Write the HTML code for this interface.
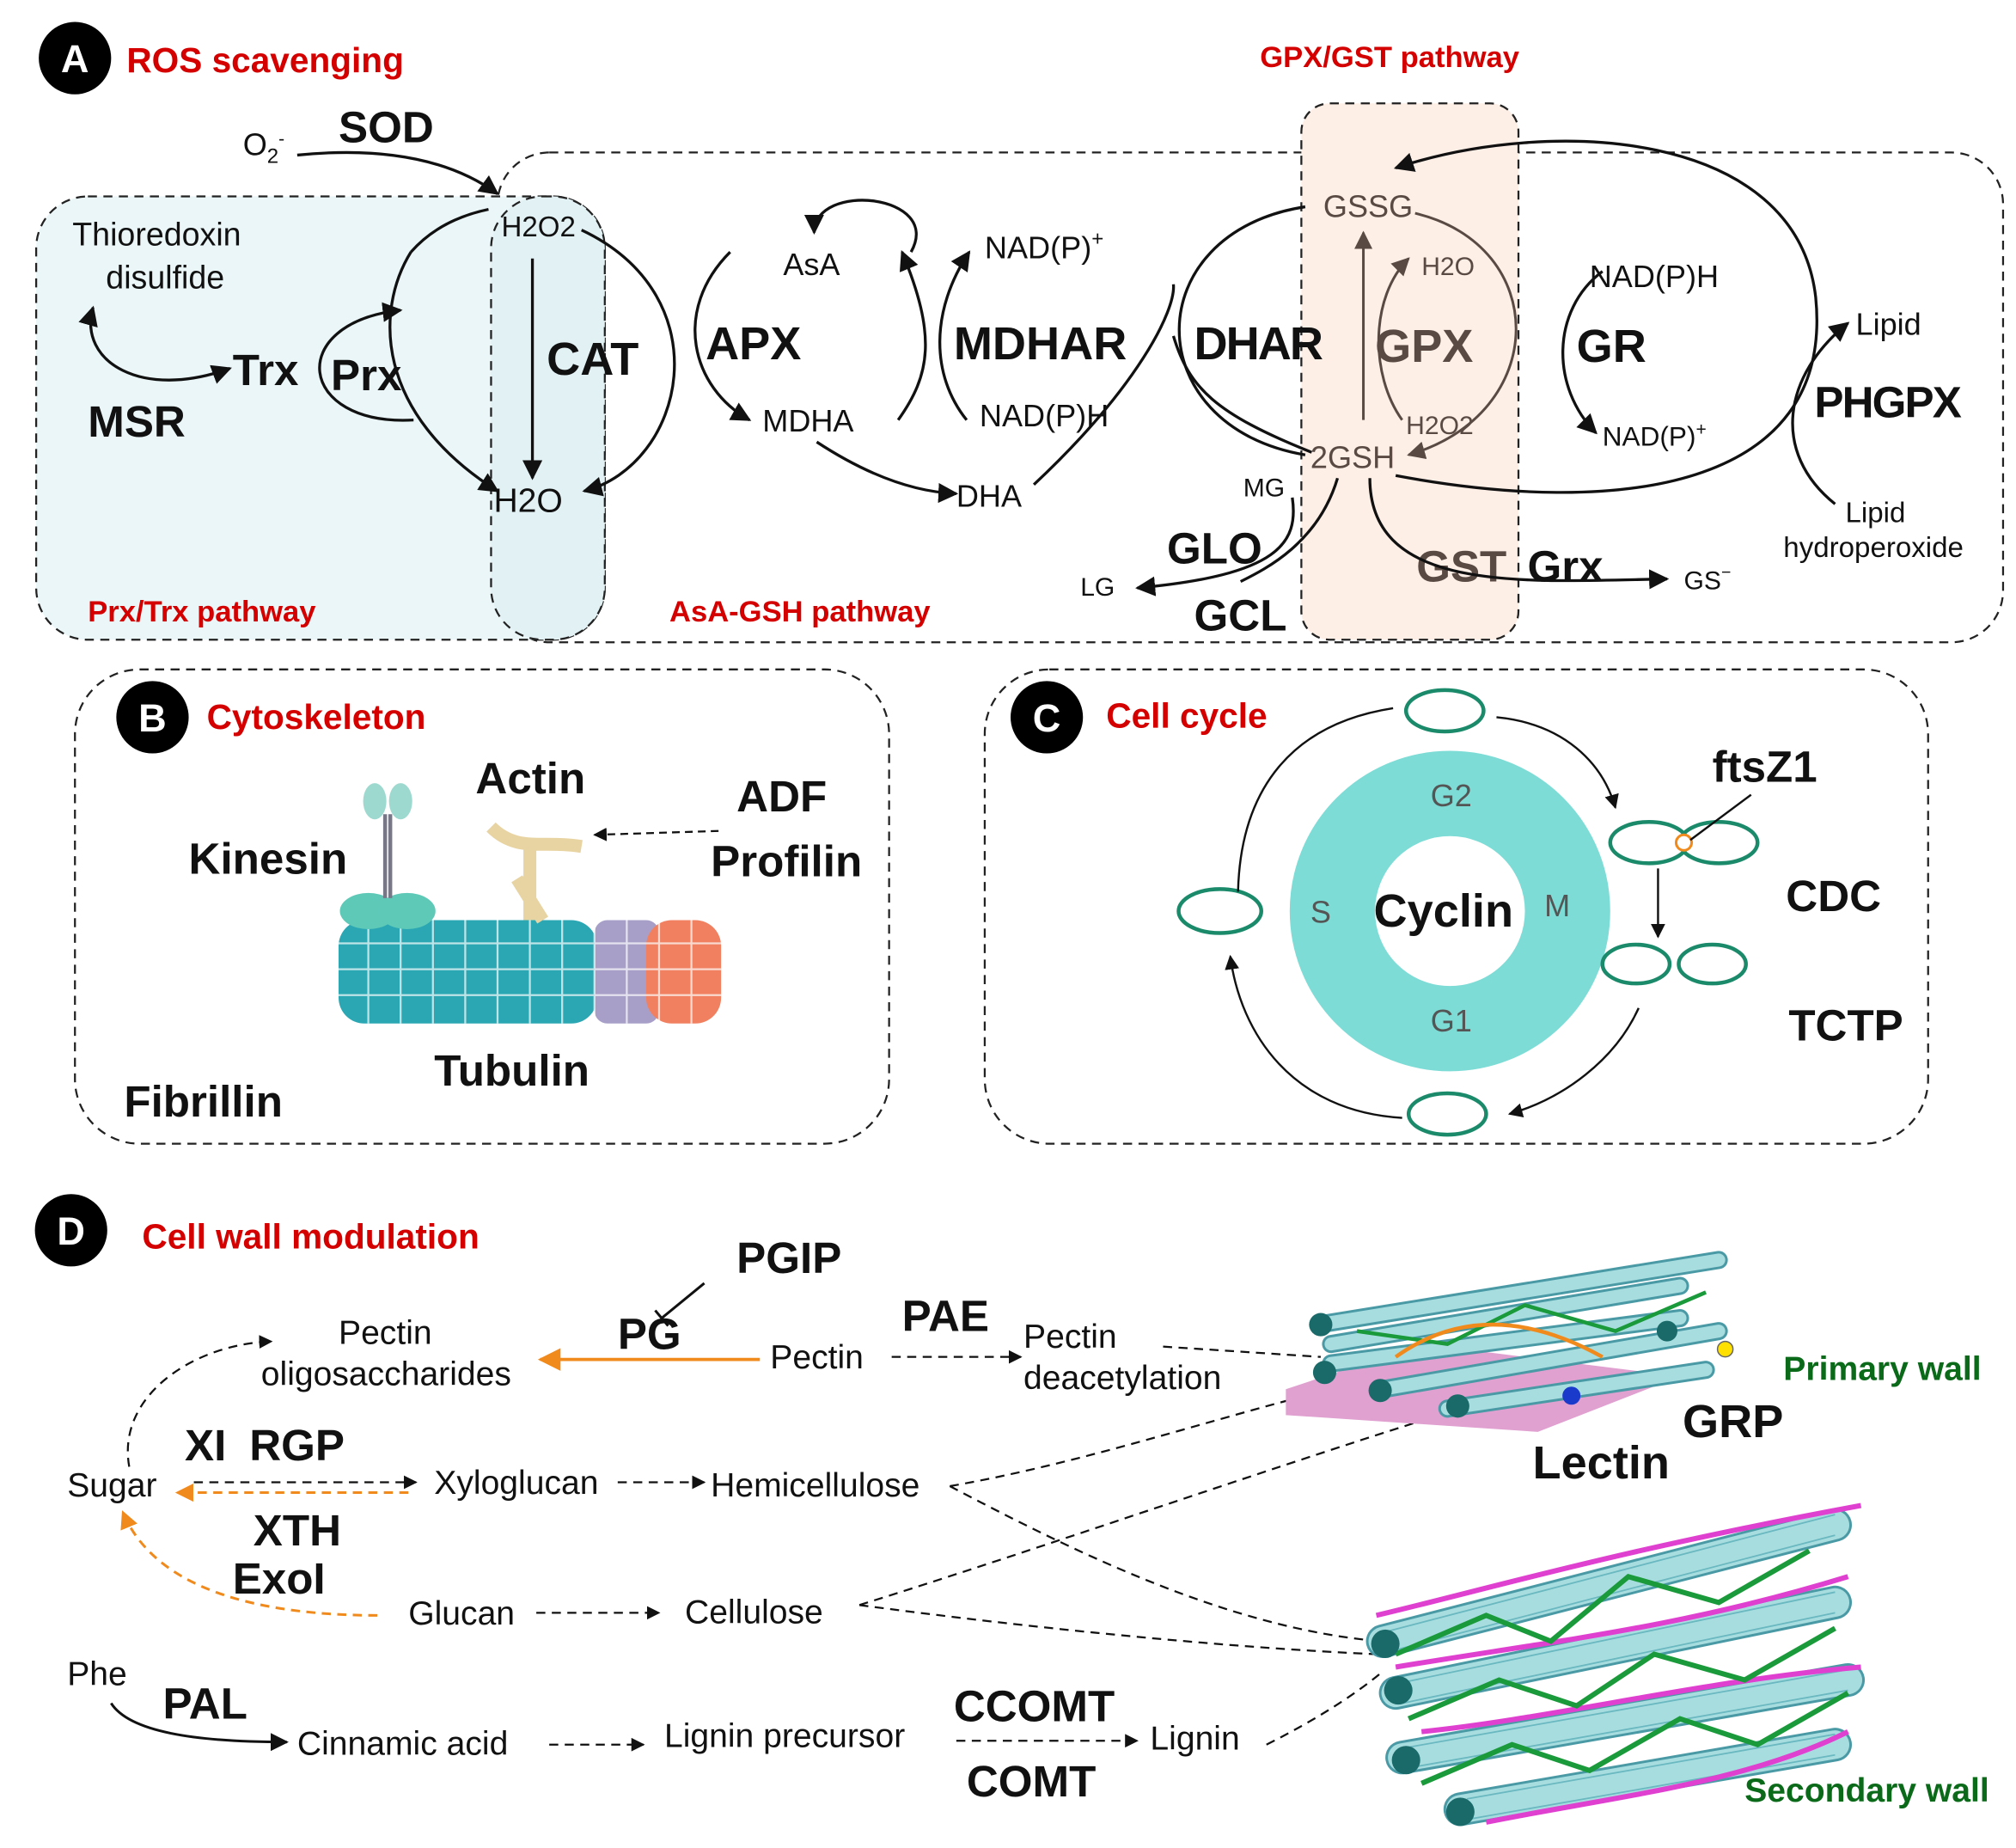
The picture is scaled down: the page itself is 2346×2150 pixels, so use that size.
<!DOCTYPE html>
<html><head><meta charset="utf-8"><style>html,body{margin:0;padding:0;background:#fff}svg{display:block}text{font-family:"Liberation Sans","DejaVu Sans",sans-serif}.b{font-weight:bold}</style></head><body>
<svg width="2346" height="2150" viewBox="0 0 1560 1430" preserveAspectRatio="none" xmlns="http://www.w3.org/2000/svg">
<defs>
<marker id="a" viewBox="0 0 10 10" refX="9" refY="5" markerWidth="7" markerHeight="7" orient="auto-start-reverse"><path d="M0,0 L10,5 L0,10 z" fill="#111"/></marker>
<marker id="ao" viewBox="0 0 10 10" refX="9" refY="5" markerWidth="7" markerHeight="7" orient="auto"><path d="M0,0 L10,5 L0,10 z" fill="#f08a1c"/></marker>
<marker id="ab" viewBox="0 0 10 10" refX="9" refY="5" markerWidth="7" markerHeight="7" orient="auto"><path d="M0,0 L10,5 L0,10 z" fill="#5a4a44"/></marker>
</defs>
<g fill="none" stroke="#222" stroke-width="1.5" stroke-dasharray="7,5">
<rect x="385" y="118" width="1165" height="379" rx="40"/>
<rect x="28" y="152" width="440" height="343" rx="40" fill="#eaf6f8"/>
<rect x="380" y="152" width="88" height="343" rx="40" fill="#e2f1f4"/>
<rect x="1007" y="80" width="168" height="415" rx="22" fill="#fdeee6"/>
<rect x="58" y="518" width="630" height="367" rx="50"/>
<rect x="762" y="518" width="730" height="367" rx="50"/>
</g>
<g font-weight="bold" fill="#fff" font-size="30" text-anchor="middle">
<circle cx="58" cy="45" r="28" fill="#000"/><text x="58" y="56">A</text>
<circle cx="118" cy="555" r="28" fill="#000"/><text x="118" y="566">B</text>
<circle cx="810" cy="555" r="28" fill="#000"/><text x="810" y="566">C</text>
<circle cx="55" cy="952" r="28" fill="#000"/><text x="55" y="963">D</text>
</g>
<g fill="#d40000" font-size="27" font-weight="bold">
<text x="98" y="56">ROS scavenging</text>
<text x="160" y="564">Cytoskeleton</text>
<text x="856" y="563">Cell cycle</text>
<text x="110" y="966">Cell wall modulation</text>
<text x="975" y="52" font-size="23">GPX/GST pathway</text>
<text x="68" y="481" font-size="23">Prx/Trx pathway</text>
<text x="518" y="481" font-size="23">AsA-GSH pathway</text>
</g>
<g fill="#111" font-size="24">
<text x="188" y="120">O<tspan font-size="16" dy="6">2</tspan><tspan font-size="14" dy="-14">-</tspan></text>
<text x="262" y="110" font-size="34" class="b">SOD</text>
<text x="56" y="190" font-size="25">Thioredoxin</text>
<text x="82" y="223" font-size="25">disulfide</text>
<text x="180" y="298" font-size="34" class="b">Trx</text>
<text x="256" y="302" font-size="34" class="b">Prx</text>
<text x="68" y="338" font-size="34" class="b">MSR</text>
<text x="388" y="183" font-size="22">H2O2</text>
<text x="423" y="290" font-size="36" class="b">CAT</text>
<text x="382" y="396" font-size="26">H2O</text>
<text x="546" y="278" font-size="36" class="b">APX</text>
<text x="606" y="213">AsA</text>
<text x="590" y="334">MDHA</text>
<text x="740" y="392">DHA</text>
<text x="762" y="200">NAD(P)<tspan font-size="16" dy="-10">+</tspan></text>
<text x="738" y="278" font-size="36" class="b" textLength="134">MDHAR</text>
<text x="758" y="330">NAD(P)H</text>
<text x="924" y="278" font-size="36" class="b" textLength="100">DHAR</text>
<text x="1024" y="168" fill="#5a4a44">GSSG</text>
<text x="1100" y="213" font-size="20" fill="#5a4a44">H2O</text>
<text x="1064" y="280" font-size="36" class="b" fill="#5a4a44">GPX</text>
<text x="1088" y="336" font-size="20" fill="#5a4a44">H2O2</text>
<text x="1014" y="362" fill="#5a4a44">2GSH</text>
<text x="1230" y="222">NAD(P)H</text>
<text x="1220" y="280" font-size="36" class="b">GR</text>
<text x="1240" y="345" font-size="21">NAD(P)<tspan font-size="14" dy="-8">+</tspan></text>
<text x="1436" y="259">Lipid</text>
<text x="1404" y="323" font-size="34" class="b" textLength="114">PHGPX</text>
<text x="1428" y="404" font-size="22">Lipid</text>
<text x="1380" y="431" font-size="22">hydroperoxide</text>
<text x="962" y="384" font-size="20">MG</text>
<text x="903" y="436" font-size="34" class="b">GLO</text>
<text x="836" y="461" font-size="20">LG</text>
<text x="924" y="488" font-size="34" class="b">GCL</text>
<text x="1096" y="450" font-size="34" class="b" fill="#5a4a44">GST</text>
<text x="1182" y="450" font-size="34" class="b">Grx</text>
<text x="1303" y="456" font-size="20">GS<tspan font-size="13" dy="-9">−</tspan></text>
</g>
<g fill="none" stroke="#111" stroke-width="2.2">
<path d="M230,120 Q330,110 385,150" marker-end="url(#a)"/>
<path d="M412,200 L412,370" marker-end="url(#a)"/>
<path d="M450,178 C560,230 530,360 452,380" marker-end="url(#a)"/>
<path d="M318,195 C290,240 290,320 385,380" marker-end="url(#a)"/>
<path d="M320,325 C230,330 220,250 310,240" marker-end="url(#a)"/>
<path d="M318,195 Q340,170 378,162"/>
<path d="M72,238 C60,280 110,310 178,285" marker-start="url(#a)" marker-end="url(#a)"/>
<path d="M565,195 C520,240 535,300 580,325" marker-end="url(#a)"/>
<path d="M705,195 C730,150 630,140 630,180" marker-end="url(#a)"/>
<path d="M632,342 Q690,380 740,382" marker-end="url(#a)"/>
<path d="M695,325 C720,290 725,260 698,195" marker-end="url(#a)"/>
<path d="M748,325 C720,290 720,240 750,195" marker-end="url(#a)"/>
<path d="M800,375 C880,300 910,240 908,220"/>
<path d="M1010,160 C880,180 880,330 1010,352"/>
<path d="M1015,350 C940,320 920,300 908,260"/>
<path d="M1000,385 C1005,420 990,445 880,455" marker-end="url(#a)"/>
<path d="M1035,370 C1020,420 980,440 960,450"/>
<path d="M1060,370 C1060,460 1180,450 1290,448" marker-end="url(#a)"/>
<path d="M1080,368 C1250,400 1420,380 1405,230 C1390,100 1200,90 1080,130" marker-end="url(#a)"/>
<path d="M1240,210 C1200,240 1200,300 1235,335" marker-end="url(#a)"/>
<path d="M1420,390 C1370,350 1380,290 1430,250" marker-end="url(#a)"/>
</g>
<g fill="none" stroke="#5a4a44" stroke-width="2">
<path d="M1055,325 L1055,180" marker-end="url(#ab)"/>
<path d="M1085,325 C1060,290 1060,230 1090,200" marker-end="url(#ab)"/>
<path d="M1095,165 C1200,190 1200,320 1090,352" marker-end="url(#ab)"/>
</g>
<g fill="#111" font-size="34" class="b">
<text x="368" y="614">Actin</text>
<text x="570" y="628">ADF</text>
<text x="550" y="678">Profilin</text>
<text x="146" y="676">Kinesin</text>
<text x="336" y="840">Tubulin</text>
<text x="96" y="864">Fibrillin</text>
</g>
<path d="M556,643 L460,646" stroke="#111" stroke-width="1.5" stroke-dasharray="6,4" fill="none" marker-end="url(#a)"/>
<g>
<rect x="262" y="712" width="200" height="80" rx="20" fill="#2aa7b3"/>
<rect x="460" y="712" width="50" height="80" rx="10" fill="#a79fc8"/>
<rect x="500" y="712" width="58" height="80" rx="20" fill="#f08060"/>
<g stroke="#fff" stroke-width="1.5" opacity="0.7"><path d="M262,730H558M262,750H558M262,770H558M285,712V792M310,712V792M335,712V792M360,712V792M385,712V792M410,712V792M435,712V792M460,712V792M485,712V792M510,712V792M535,712V792"/></g>
<ellipse cx="285" cy="705" rx="22" ry="14" fill="#5fc9b8"/><ellipse cx="315" cy="705" rx="22" ry="14" fill="#5fc9b8"/>
<path d="M298,630 L298,695 M302,630 L302,695" stroke="#778" stroke-width="3"/>
<ellipse cx="290" cy="620" rx="9" ry="14" fill="#9ed9d0"/><ellipse cx="310" cy="620" rx="9" ry="14" fill="#9ed9d0"/>
<path d="M380,640 C400,660 420,650 450,655 M410,650 L410,712 M400,680 L420,712" stroke="#e8d4a2" stroke-width="10" fill="none"/>
</g>
<circle cx="1122" cy="705" r="91" fill="none" stroke="#7ddcd6" stroke-width="66"/>
<g fill="#555" font-size="24" text-anchor="middle"><text x="1123" y="624">G2</text><text x="1123" y="798">G1</text><text x="1022" y="714">S</text><text x="1205" y="709">M</text></g>
<text x="1117" y="717" font-size="36" text-anchor="middle" fill="#111" class="b">Cyclin</text>
<g fill="#111" font-size="34" class="b"><text x="1325" y="605">ftsZ1</text><text x="1382" y="705">CDC</text><text x="1384" y="805">TCTP</text></g>
<g fill="none" stroke="#111" stroke-width="3">
<ellipse cx="1118" cy="550" rx="30" ry="16" stroke="#1a8a6a"/>
<ellipse cx="944" cy="705" rx="32" ry="17" stroke="#1a8a6a"/>
<ellipse cx="1120" cy="862" rx="30" ry="16" stroke="#1a8a6a"/>
<ellipse cx="1276" cy="652" rx="30" ry="16" stroke="#1a8a6a"/><ellipse cx="1330" cy="652" rx="30" ry="16" stroke="#1a8a6a"/>
<ellipse cx="1266" cy="746" rx="26" ry="15" stroke="#1a8a6a"/><ellipse cx="1325" cy="746" rx="26" ry="15" stroke="#1a8a6a"/>
</g>
<circle cx="1303" cy="652" r="6" fill="#fff" stroke="#f08a1c" stroke-width="2"/>
<g fill="none" stroke="#111" stroke-width="1.6">
<path d="M1158,555 C1210,560 1240,590 1250,625" marker-end="url(#a)"/>
<path d="M1283,672 L1283,725" marker-end="url(#a)"/>
<path d="M1268,780 C1250,820 1210,850 1168,862" marker-end="url(#a)"/>
<path d="M1085,865 C1000,860 960,800 952,740" marker-end="url(#a)"/>
<path d="M958,690 C960,610 1000,560 1078,548"/>
<path d="M1308,650 L1355,615"/>
</g>
<g fill="#111" font-size="26">
<text x="570" y="985" font-size="34" class="b">PGIP</text>
<text x="478" y="1044" font-size="34" class="b">PG</text>
<text x="698" y="1030" font-size="34" class="b">PAE</text>
<text x="262" y="1040">Pectin</text>
<text x="202" y="1072">oligosaccharides</text>
<text x="596" y="1059">Pectin</text>
<text x="792" y="1043">Pectin</text>
<text x="792" y="1075">deacetylation</text>
<text x="143" y="1130" font-size="34" class="b">XI</text>
<text x="193" y="1130" font-size="34" class="b">RGP</text>
<text x="52" y="1158">Sugar</text>
<text x="336" y="1156">Xyloglucan</text>
<text x="550" y="1158">Hemicellulose</text>
<text x="196" y="1196" font-size="34" class="b">XTH</text>
<text x="180" y="1233" font-size="34" class="b">ExoI</text>
<text x="316" y="1257">Glucan</text>
<text x="530" y="1256">Cellulose</text>
<text x="52" y="1304">Phe</text>
<text x="126" y="1330" font-size="34" class="b">PAL</text>
<text x="230" y="1358">Cinnamic acid</text>
<text x="514" y="1352">Lignin precursor</text>
<text x="738" y="1332" font-size="34" class="b">CCOMT</text>
<text x="890" y="1354">Lignin</text>
<text x="748" y="1390" font-size="34" class="b">COMT</text>
<text x="1186" y="1144" font-size="36" class="b">Lectin</text>
<text x="1302" y="1112" font-size="36" class="b">GRP</text>
<text x="1380" y="1068" fill="#0a6a1a" font-size="26" class="b">Primary wall</text>
<text x="1350" y="1394" fill="#0a6a1a" font-size="26" class="b">Secondary wall</text>
</g>
<g fill="none" stroke="#111" stroke-width="1.5" stroke-dasharray="7,5">
<path d="M100,1135 C90,1080 150,1040 210,1038" marker-end="url(#a)"/>
<path d="M690,1050 L790,1050" marker-end="url(#a)"/>
<path d="M150,1147 L322,1147" marker-end="url(#a)"/>
<path d="M478,1147 L545,1147" marker-end="url(#a)"/>
<path d="M415,1248 L510,1248" marker-end="url(#a)"/>
<path d="M425,1350 L498,1350" marker-end="url(#a)"/>
<path d="M740,1347 L880,1347" marker-end="url(#a)"/>
<path d="M900,1042 L1022,1050"/>
<path d="M735,1150 C850,1130 960,1090 1060,1068"/>
<path d="M735,1150 C830,1200 950,1260 1068,1270"/>
<path d="M665,1242 C800,1200 1000,1130 1130,1090"/>
<path d="M665,1242 C800,1260 950,1275 1065,1280"/>
<path d="M980,1350 C1020,1330 1050,1310 1068,1295"/>
</g>
<g fill="none" stroke-width="2">
<path d="M545,993 L512,1020" stroke="#111"/><path d="M507,1014 L517,1026" stroke="#111"/>
<path d="M588,1052 L418,1052" stroke="#f08a1c" stroke-width="2.5" marker-end="url(#ao)"/>
<path d="M316,1155 L137,1155" stroke="#f08a1c" stroke-dasharray="7,5" marker-end="url(#ao)"/>
<path d="M292,1250 C200,1250 120,1230 95,1170" stroke="#f08a1c" stroke-dasharray="7,5" marker-end="url(#ao)"/>
<path d="M86,1318 C100,1340 150,1348 222,1348" stroke="#111" marker-end="url(#a)"/>
</g>
<polygon points="995,1075 1100,1040 1300,1065 1190,1108 995,1095" fill="#e0a0d0"/>
<g stroke="#4a9aa6" stroke-width="14" stroke-linecap="round">
<path d="M1020,1025 L1330,975"/><path d="M1030,1055 L1300,1020"/><path d="M1070,1075 L1330,1030"/><path d="M1120,1090 L1320,1060"/><path d="M1030,1040 L1300,995"/>
</g>
<g stroke="#a8dde0" stroke-width="10" stroke-linecap="round">
<path d="M1020,1025 L1330,975"/><path d="M1030,1055 L1300,1020"/><path d="M1070,1075 L1330,1030"/><path d="M1120,1090 L1320,1060"/><path d="M1030,1040 L1300,995"/>
</g>
<path d="M1050,1030 L1120,1040 L1180,1010 L1250,1030 L1320,1000" stroke="#1a9a3a" stroke-width="3" fill="none"/>
<path d="M1080,1050 Q1150,1000 1240,1050" stroke="#f08a1c" stroke-width="3" fill="none"/>
<g fill="#1a6a6a"><circle cx="1022" cy="1025" r="9"/><circle cx="1025" cy="1062" r="9"/><circle cx="1068" cy="1076" r="9"/><circle cx="1128" cy="1088" r="9"/><circle cx="1290" cy="1030" r="8"/></g>
<circle cx="1335" cy="1044" r="6" fill="#ffe000" stroke="#666"/><circle cx="1216" cy="1080" r="7" fill="#1a3acc"/>
<g stroke="#4a9aa6" stroke-width="26" stroke-linecap="round">
<path d="M1070,1270 L1420,1180"/><path d="M1080,1310 L1420,1240"/><path d="M1085,1360 L1430,1300"/><path d="M1130,1400 L1420,1350"/>
</g>
<g stroke="#a8dde0" stroke-width="22" stroke-linecap="round">
<path d="M1070,1270 L1420,1180"/><path d="M1080,1310 L1420,1240"/><path d="M1085,1360 L1430,1300"/><path d="M1130,1400 L1420,1350"/>
</g>
<g stroke="#6ab8c0" stroke-width="1.2"><path d="M1075,1262 L1420,1172M1075,1278 L1420,1188M1085,1302 L1420,1232M1085,1318 L1420,1248M1090,1352 L1430,1292M1090,1368 L1430,1308M1135,1392 L1420,1342M1135,1408 L1420,1358"/></g>
<g fill="none" stroke-width="4">
<path d="M1065,1250 C1150,1230 1250,1200 1440,1165" stroke="#e040d0"/>
<path d="M1080,1290 C1200,1270 1300,1260 1430,1220" stroke="#e040d0"/>
<path d="M1100,1340 C1200,1330 1320,1300 1440,1290" stroke="#e040d0"/>
<path d="M1150,1410 C1250,1390 1350,1380 1430,1340" stroke="#e040d0"/>
<path d="M1080,1280 L1150,1250 L1200,1270 L1260,1220 L1330,1240 L1400,1200" stroke="#1a9a3a"/>
<path d="M1090,1330 L1160,1300 L1220,1320 L1280,1280 L1350,1300 L1420,1260" stroke="#1a9a3a"/>
<path d="M1100,1380 L1170,1350 L1230,1370 L1300,1330 L1360,1350 L1430,1310" stroke="#1a9a3a"/>
</g>
<g fill="#1a6a6a"><circle cx="1072" cy="1272" r="11"/><circle cx="1082" cy="1308" r="11"/><circle cx="1088" cy="1362" r="11"/><circle cx="1130" cy="1402" r="11"/></g>
</svg>
</body></html>
